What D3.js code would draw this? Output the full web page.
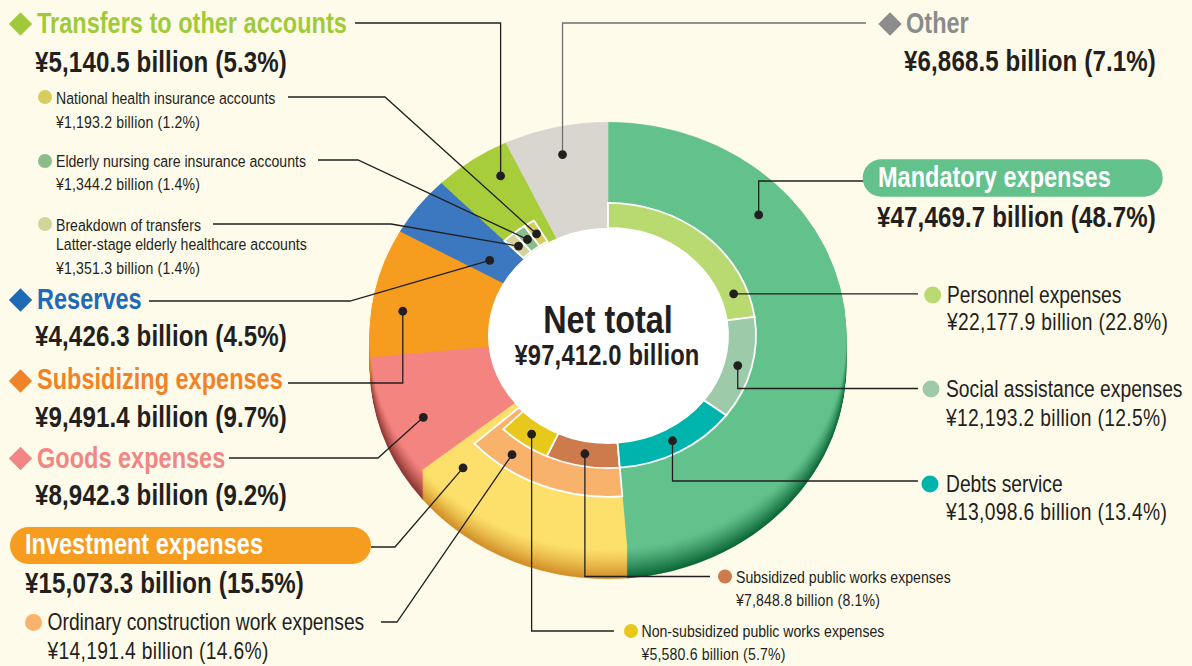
<!DOCTYPE html>
<html>
<head>
<meta charset="utf-8">
<script src="https://cdn.jsdelivr.net/npm/d3@7"></script>
<style>
  html, body { margin: 0; padding: 0; background: #fffbea; }
  svg { display: block; }
</style>
</head>
<body>
<svg id="chart" width="1192" height="666"></svg>
<script>
// ---- Data (¥ billion) ----
const total = 97412.0;

// Outer ring, clockwise from 12 o'clock
const mainCategories = ["Mandatory expenses", "Investment expenses", "Goods expenses",
  "Subsidizing expenses", "Reserves", "Transfers to other accounts", "Other"];
const mainValues = [47469.7, 15073.3, 8942.3, 9491.4, 4426.3, 5140.5, 6868.5];

// Mandatory expenses breakdown
const mandatoryItems = ["Personnel expenses", "Social assistance expenses", "Debts service"];
const mandatoryValues = [22177.9, 12193.2, 13098.6];

// Investment expenses breakdown
const constructionItems = ["Ordinary construction work expenses"];
const constructionValues = [14191.4];
const publicWorksItems = ["Subsidized public works expenses", "Non-subsidized public works expenses"];
const publicWorksValues = [7848.8, 5580.6];

// Breakdown of transfers to other accounts
const transferItems = ["Latter-stage elderly healthcare accounts",
  "Elderly nursing care insurance accounts", "National health insurance accounts"];
const transferValues = [1351.3, 1344.2, 1193.2];

// ---- Colours ----
const mainColors = ["#63c18c", "#fde06b", "#f4847f", "#f69c1f", "#3b78c0", "#a7ce3a", "#d9d6d0"];
const sideColors = ["#0b6636", "#d18e28", "#8a3430", "#b45f10", "#1d477d", "#5d7d1c", "#8d8a84"];
const mandatoryColors = ["#b9d971", "#9dcaa9", "#00b4ae"];
const constructionColors = ["#f9b26b"];
const publicWorksColors = ["#cd7b4c", "#e7c81b"];
const transferColors = ["#d3d39c", "#8abd8b", "#d5cd5e"];
const headingColors = { transfers: "#9fcb3a", reserves: "#1f6ab4", subsidizing: "#f0832a",
  goods: "#f28684", other: "#8c8c8c" };
const ink = "#231f20";

// ---- Geometry ----
const W = 1192, H = 666;
const cx = 608, cy = 335.5;     // centre of the top face
const k = 0.896;                // vertical squash of the tilted disc
const depth = 30;               // thickness of the disc edge
const R_HOLE = 120, R_INNER = 148, R_CONSTR = 180, R_OUTER = 238;

const svg = d3.select("#chart");
svg.append("rect").attr("width", W).attr("height", H).attr("fill", "#fffbea");

const ang = d3.scaleLinear().domain([0, total]).range([0, 2 * Math.PI]);
const spans = (vals, offset = 0) => {
  let s = offset;
  return vals.map(v => { const a = s; s += v; return [a, s]; });
};
const mainSpans = spans(mainValues);
const mandatorySpans = spans(mandatoryValues, mainSpans[0][0]);
const constructionSpans = spans(constructionValues, mainSpans[1][0]);
const publicWorksSpans = spans(publicWorksValues, mainSpans[1][0]);
const transferSpans = spans(transferValues, mainSpans[5][0]);

const arc = d3.arc()
  .innerRadius(d => d.r0).outerRadius(d => d.r1)
  .startAngle(d => ang(d.a0)).endAngle(d => ang(d.a1));

const discGroup = dy => svg.append("g")
  .attr("transform", `translate(${cx},${cy + dy}) scale(1,${k})`);

// Edge of the disc: stacked copies of each slice, darkening with depth
for (let t = depth; t >= 1; t -= 1) {
  const g = discGroup(t);
  const f = Math.pow(t / depth, 1.25);
  mainSpans.forEach((s, i) => {
    const c = d3.interpolateRgb(mainColors[i], sideColors[i])(f);
    g.append("path")
      .attr("d", arc({ a0: s[0], a1: s[1], r0: 0, r1: R_OUTER }))
      .attr("fill", c).attr("stroke", c).attr("stroke-width", 0.6)
      .attr("vector-effect", "non-scaling-stroke");
  });
}

// Top face
const face = discGroup(0);
mainSpans.forEach((s, i) => {
  face.append("path")
    .attr("d", arc({ a0: s[0], a1: s[1], r0: R_HOLE - 2, r1: R_OUTER }))
    .attr("fill", mainColors[i]).attr("stroke", mainColors[i]).attr("stroke-width", 0.6)
    .attr("vector-effect", "non-scaling-stroke");
});

function ring(spansArr, colors, r0, r1) {
  spansArr.forEach((s, i) => {
    face.append("path")
      .attr("d", arc({ a0: s[0], a1: s[1], r0, r1 }))
      .attr("fill", colors[i]).attr("stroke", "#ffffff").attr("stroke-width", 1.8)
      .attr("stroke-linejoin", "miter")
      .attr("vector-effect", "non-scaling-stroke");
  });
}
ring(constructionSpans, constructionColors, R_HOLE, R_CONSTR);
ring(publicWorksSpans, publicWorksColors, R_HOLE, R_INNER);
ring(mandatorySpans, mandatoryColors, R_HOLE, R_INNER);
ring(transferSpans, transferColors, R_HOLE + 1, R_INNER);

// Centre hole
face.append("circle").attr("r", R_HOLE).attr("fill", "#ffffff");

// ---- Text helpers ----
function measure(fam) {
  const t = svg.append("text").attr("font-family", fam).attr("font-size", 100)
    .text("Transfers to other accounts");
  const w = t.node().getComputedTextLength();
  t.remove();
  return w;
}
const hasNarrow = Math.abs(measure("'Liberation Sans Narrow', monospace") - measure("monospace")) > 1;
const FONT = hasNarrow ? "'Liberation Sans Narrow', 'Arial Narrow', sans-serif"
                       : "'Liberation Sans', Arial, sans-serif";
const SX = hasNarrow ? 1 : 0.82;

function txt(x, y, s, size, o = {}) {
  return svg.append("text")
    .attr("transform", `translate(${x},${y}) scale(${SX},1)`)
    .attr("font-family", FONT).attr("font-size", size)
    .attr("font-weight", o.bold ? 700 : 400)
    .attr("fill", o.color || ink)
    .attr("text-anchor", o.anchor || "start")
    .attr("letter-spacing", o.ls || 0)
    .text(s);
}
const fmtVal = d3.format(",.1f"), fmtPct = d3.format(".1f");
const valueText = v => `¥${fmtVal(v)} billion (${fmtPct(v / total * 100)}%)`;

// ---- Callout leaders ----
function pointAt(span, frac, r) {
  const th = ang(span[0] + frac * (span[1] - span[0]));
  return [cx + r * Math.sin(th), cy - r * Math.cos(th) * k];
}
const leaders = svg.append("g");
function callout(span, frac, r, route, color) {
  const p = pointAt(span, frac, r);
  const pts = [p];
  let last = p;
  route.forEach(([x, y]) => {
    const q = [x === null ? last[0] : x, y === null ? last[1] : y];
    pts.push(q); last = q;
  });
  leaders.append("path").attr("d", d3.line()(pts))
    .attr("fill", "none").attr("stroke", color || ink).attr("stroke-width", 1.3);
  leaders.append("circle").attr("cx", p[0]).attr("cy", p[1]).attr("r", 4.4).attr("fill", ink);
}

callout(mainSpans[0], 0.275, 202, [[null, 181], [863, 181]]);
callout(mandatorySpans[0], 0.85, 134, [[918, null]]);
callout(mandatorySpans[1], 0.5, 134, [[null, 388.5], [918, 388.5]]);
callout(mandatorySpans[2], 0.5, 134, [[null, 481], [918, 481]]);
callout(publicWorksSpans[0], 0.5, 134, [[null, 576.5], [710, 576.5]]);
callout(publicWorksSpans[1], 0.5, 134, [[null, 631], [614, 631]]);
callout(constructionSpans[0], 0.77, 164, [[397, 622], [381, 622]]);
callout(mainSpans[1], 0.88, 207, [[395, 547], [371, 547]]);
callout(mainSpans[2], 0.38, 206, [[378, 458], [229, 458]]);
callout(mainSpans[3], 0.38, 207, [[null, 383], [288, 383]]);
callout(mainSpans[4], 0.37, 145, [[350, 301], [149, 301]]);
callout(mainSpans[5], 0.7, 208, [[null, 23], [355, 23]]);
callout(mainSpans[6], 0.5, 207, [[null, 23], [866, 23]], "#6f6f6f");
callout(transferSpans[2], 0.5, 134, [[385, 97], [288, 97]]);
callout(transferSpans[1], 0.5, 134, [[358, 160], [318, 160]]);
callout(transferSpans[0], 0.5, 134, [[391, 224], [213, 224]]);

// ---- Label markers ----
function diamond(x, y, color, h = 11.7) {
  svg.append("path").attr("d", `M${x},${y - h}L${x + h},${y}L${x},${y + h}L${x - h},${y}Z`)
    .attr("fill", color);
}
function dot(x, y, color, r = 8.5) {
  svg.append("circle").attr("cx", x).attr("cy", y).attr("r", r).attr("fill", color);
}
function pill(x0, x1, y0, y1, color) {
  svg.append("rect").attr("x", x0).attr("y", y0).attr("width", x1 - x0).attr("height", y1 - y0)
    .attr("rx", (y1 - y0) / 2).attr("fill", color);
}

const HEAD = 28.7, VAL = 29.4, MED = 23.5, SMALL = 17.2;
const boldVal = { bold: true, ls: 0.15 };
const medVal = { ls: 0.4 };
const smallVal = { ls: 0.2 };

// Left column
diamond(20.5, 24, headingColors.transfers);
txt(37, 33, mainCategories[5], HEAD, { bold: true, color: headingColors.transfers });
txt(35, 72, valueText(mainValues[5]), VAL, boldVal);

dot(45, 97, transferColors[2], 7);
txt(56, 104, transferItems[2], SMALL);
txt(56, 127.5, valueText(transferValues[2]), SMALL, smallVal);
dot(45, 161, transferColors[1], 7);
txt(56, 167, transferItems[1], SMALL);
txt(56, 190, valueText(transferValues[1]), SMALL, smallVal);
dot(45, 224, transferColors[0], 7);
txt(56, 230.5, "Breakdown of transfers", SMALL);
txt(56, 250, transferItems[0], SMALL);
txt(56, 274, valueText(transferValues[0]), SMALL, smallVal);

diamond(20.5, 300, headingColors.reserves);
txt(37, 308.5, mainCategories[4], HEAD, { bold: true, color: headingColors.reserves });
txt(35, 346, valueText(mainValues[4]), VAL, boldVal);

diamond(20.5, 381, headingColors.subsidizing);
txt(37, 389, mainCategories[3], HEAD, { bold: true, color: headingColors.subsidizing });
txt(35, 426.5, valueText(mainValues[3]), VAL, boldVal);

diamond(20.5, 458.5, headingColors.goods);
txt(37, 467.5, mainCategories[2], HEAD, { bold: true, color: headingColors.goods });
txt(35, 505, valueText(mainValues[2]), VAL, boldVal);

pill(10, 371, 527, 564, "#f69c1f");
txt(25, 553.5, mainCategories[1], HEAD, { bold: true, color: "#ffffff" });
txt(25, 593, valueText(mainValues[1]), VAL, boldVal);

dot(33.5, 622.5, constructionColors[0]);
txt(47.5, 630, constructionItems[0], MED);
txt(47.5, 659, valueText(constructionValues[0]), MED, medVal);

// Right column
diamond(890, 24, headingColors.other);
txt(906, 33.3, mainCategories[6], HEAD, { bold: true, color: headingColors.other });
txt(904, 71, valueText(mainValues[6]), VAL, boldVal);

pill(862.7, 1162.7, 159.3, 196.7, "#63c18c");
txt(878, 187, mainCategories[0], HEAD, { bold: true, color: "#ffffff" });
txt(877, 226.5, valueText(mainValues[0]), VAL, boldVal);

dot(932.7, 295, mandatoryColors[0]);
txt(947, 303, mandatoryItems[0], MED);
txt(947, 330, valueText(mandatoryValues[0]), MED, medVal);

dot(931, 389, mandatoryColors[1]);
txt(946, 397, mandatoryItems[1], MED);
txt(946, 425.5, valueText(mandatoryValues[1]), MED, medVal);

dot(930, 484, mandatoryColors[2]);
txt(946, 492, mandatoryItems[2], MED);
txt(946, 520, valueText(mandatoryValues[2]), MED, medVal);

dot(725, 576.5, publicWorksColors[0], 7);
txt(736, 583, publicWorksItems[0], SMALL);
txt(736, 605.5, valueText(publicWorksValues[0]), SMALL, smallVal);

dot(631, 631, publicWorksColors[1], 7);
txt(641.5, 637, publicWorksItems[1], SMALL);
txt(641.5, 660, valueText(publicWorksValues[1]), SMALL, smallVal);

// Centre total
txt(608, 332.5, "Net total", 39.5, { bold: true, anchor: "middle" });
txt(607, 365, `¥${fmtVal(d3.sum(mainValues))} billion`, 29, { bold: true, anchor: "middle", ls: 0.2 });
</script>
</body>
</html>
